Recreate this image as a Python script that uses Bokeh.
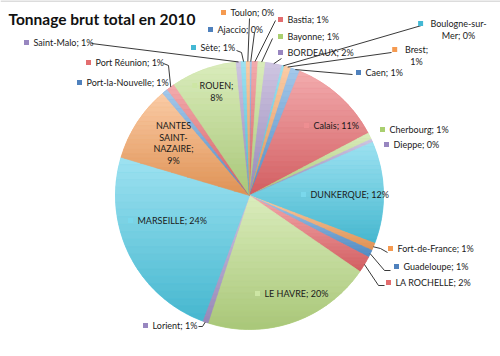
import math
from bokeh.plotting import figure
from bokeh.models import Range1d
from bokeh.embed import file_html
from bokeh.resources import INLINE
from bokeh.core.properties import value

# ---- data (share of total gross tonnage, %) ----
ports = ["Ajaccio", "Bastia", "Bayonne", "BORDEAUX", "Boulogne-sur-Mer", "Brest", "Caen",
         "Calais", "Cherbourg", "Dieppe", "DUNKERQUE", "Fort-de-France", "Guadeloupe",
         "LA ROCHELLE", "LE HAVRE", "Lorient", "MARSEILLE", "NANTES SAINT-NAZAIRE",
         "Port-la-Nouvelle", "Port Réunion", "ROUEN", "Saint-Malo", "Sète", "Toulon"]
share = [0.3, 0.7, 0.9, 2.0, 0.3, 0.8, 1.1,
         11.2, 0.8, 0.4, 12.3, 0.9, 0.9,
         2.0, 20.4, 0.7, 23.9, 9.2,
         0.7, 1.0, 7.9, 0.6, 0.6, 0.4]
title = "Tonnage brut total en 2010"

# ---- style ----
palette = ["#5b9bd8", "#e9686c", "#bcdd86", "#a897cb", "#4ecbe6", "#f7a25e"]
label_palette = ["#4f81bd", "#e36d6f", "#a9cf6f", "#9886c0", "#44b8d4", "#f59a50"]
W, H = 500, 356
CX, CY, R = 249, 195, 134
FONT = value("Lato")

# label layout (screen px): x, y, align, breaks, leader path, inside?
layout = {
    "Ajaccio": (217, 29, "left", [], [(254, 32)], False),
    "Bastia": (287, 19, "left", [], [(275, 20)], False),
    "Bayonne": (287, 36, "left", [], [(272, 38)], False),
    "BORDEAUX": (287, 52, "left", [], [(281, 58)], False),
    "Boulogne-sur-Mer": (458, 23, "center", [13], [(421, 25)], False),
    "Brest": (416, 49, "center", [6], [(391, 52)], False),
    "Caen": (365, 72, "left", [], [(352, 74)], False),
    "Calais": (313, 125, "left", [], None, True),
    "Cherbourg": (389, 129, "left", [], None, False),
    "Dieppe": (393, 144, "left", [], None, False),
    "DUNKERQUE": (310, 194, "left", [], None, True),
    "Fort-de-France": (397, 248, "left", [], [(387, 252), (380, 248)], False),
    "Guadeloupe": (403, 266, "left", [], [(390, 270), (384, 270)], False),
    "LA ROCHELLE": (395, 282, "left", [], [(384, 285), (378, 285)], False),
    "LE HAVRE": (264, 293, "left", [], None, True),
    "Lorient": (152, 325, "left", [], [(198, 326), (202, 326)], False),
    "MARSEILLE": (137, 220, "left", [], None, True),
    "NANTES SAINT-NAZAIRE": (173, 125, "center", [7, 13, 21], None, True),
    "Port-la-Nouvelle": (86, 82, "left", [], None, False),
    "Port Réunion": (95, 62, "left", [], [(163, 63), (168, 65)], False),
    "ROUEN": (216, 85, "center", [6], None, True),
    "Saint-Malo": (33, 42, "left", [], [(91, 43)], False),
    "Sète": (200, 47, "left", [], [(236, 50), (241, 52)], False),
    "Toulon": (230, 12, "left", [], [(249, 18)], False),
}


def fy(sy):
    return H - sy


def hex2rgb(h):
    return tuple(int(h[i:i + 2], 16) for i in (1, 3, 5))


def rgb2hex(c):
    return "#%02x%02x%02x" % tuple(max(0, min(255, int(round(v)))) for v in c)


def mix(c1, c2, t):
    return tuple(a + (b - a) * t for a, b in zip(c1, c2))


def clip_y(poly, yv, keep_above):
    # keep points with y >= yv (keep_above) or y <= yv
    out = []
    n = len(poly)
    for i in range(n):
        a, b = poly[i], poly[(i + 1) % n]
        ina = a[1] >= yv if keep_above else a[1] <= yv
        inb = b[1] >= yv if keep_above else b[1] <= yv
        if ina:
            out.append(a)
        if ina != inb:
            t = (yv - a[1]) / (b[1] - a[1])
            out.append((a[0] + t * (b[0] - a[0]), yv))
    return out


p = figure(width=W, height=H, x_range=Range1d(0, W), y_range=Range1d(0, H),
           output_backend="svg", toolbar_location=None, min_border=0)
p.axis.visible = False
p.grid.visible = False
p.outline_line_color = None
p.background_fill_color = "white"

# top border line
p.segment(x0=[0], y0=[fy(0.5)], x1=[W], y1=[fy(0.5)], line_color="#d0d0d0", line_width=1.5)

total = sum(share)
starts, ends, mids, colors, fr = [], [], [], [], []
cum = 0.0
for i, s in enumerate(share):
    f0 = cum / total
    cum += s
    f1 = cum / total
    fr.append((f0, f1))
    starts.append(math.pi / 2 - 2 * math.pi * f0)
    ends.append(math.pi / 2 - 2 * math.pi * f1)
    mids.append((f0 + f1) / 2)
    colors.append(palette[i % 6])

p.wedge(x=[CX] * len(share), y=[fy(CY)] * len(share), radius=R,
        start_angle=starts, end_angle=ends, direction="clock",
        fill_color=colors, line_color=colors, line_width=0.3)

# per-slice vertical shading (light at top, deeper at bottom)
gx, gy, gc = [], [], []
NB = 22
white, black = (255, 255, 255), (0, 0, 0)
for i, (f0, f1) in enumerate(fr):
    nseg = max(2, int((f1 - f0) * 360))
    poly = [(CX, CY)]
    for k in range(nseg + 1):
        a = 2 * math.pi * (f0 + (f1 - f0) * k / nseg)
        poly.append((CX + R * math.sin(a), CY - R * math.cos(a)))
    ymin = min(q[1] for q in poly)
    ymax = max(q[1] for q in poly)
    base = hex2rgb(colors[i])
    light = mix(base, white, 0.45)
    dark = mix(base, black, 0.10)
    for b in range(NB):
        ya = ymin + (ymax - ymin) * b / NB
        yb = ymin + (ymax - ymin) * (b + 1) / NB
        sub = clip_y(clip_y(poly, ya, True), yb, False)
        if len(sub) < 3:
            continue
        t = (b + 0.5) / NB
        c = rgb2hex(mix(light, dark, t))
        gx.append([q[0] for q in sub])
        gy.append([fy(q[1]) for q in sub])
        gc.append(c)
p.patches(xs=gx, ys=gy, fill_color=gc, line_color=gc, line_width=0.6)

# leader lines
xs, ys = [], []
for i, name in enumerate(ports):
    path = layout[name][4]
    if not path:
        continue
    a = 2 * math.pi * mids[i]
    ex, ey = CX + R * math.sin(a), CY - R * math.cos(a)
    pts = path + [(ex, ey)]
    xs.append([q[0] for q in pts])
    ys.append([fy(q[1]) for q in pts])
p.multi_line(xs=xs, ys=ys, line_color="#222222", line_width=0.9)

# labels
tx, ty, tt, ta = [], [], [], []
mx, my, mc = [], [], []
for i, name in enumerate(ports):
    x, y, align, breaks, _, inside = layout[name]
    label = f"{name}; {round(share[i] / total * 100)}%"
    parts, prev = [], 0
    for b in breaks:
        parts.append(label[prev:b].strip())
        prev = b
    parts.append(label[prev:].strip())
    for k, part in enumerate(parts):
        tx.append(x)
        ty.append(fy(y + 11.5 * k))
        tt.append(part)
        ta.append(align)
    if name == "NANTES SAINT-NAZAIRE":
        continue
    if align == "left":
        kx = x - 7
    else:
        kx = x - 4.6 * len(parts[0]) / 2 - 8
    mx.append(kx)
    my.append(fy(y))
    mc.append(rgb2hex(mix(hex2rgb(palette[i % 6]), white, 0.25)) if inside else label_palette[i % 6])

p.scatter(x=mx, y=my, marker="square", size=5, fill_color=mc, line_color=None)
for align in ("left", "center"):
    idx = [k for k in range(len(tt)) if ta[k] == align]
    p.text(x=[tx[k] for k in idx], y=[ty[k] for k in idx], text=[tt[k] for k in idx],
           text_align=align, text_baseline="middle", text_font=FONT,
           text_font_size="9px", text_color="#1a1a1a")

p.text(x=[8], y=[fy(18)], text=[title], text_align="left", text_baseline="middle",
       text_font=FONT, text_font_size="15.5px", text_font_style="bold", text_color="#111111")

open("out.html", "w").write(file_html(p, INLINE))
